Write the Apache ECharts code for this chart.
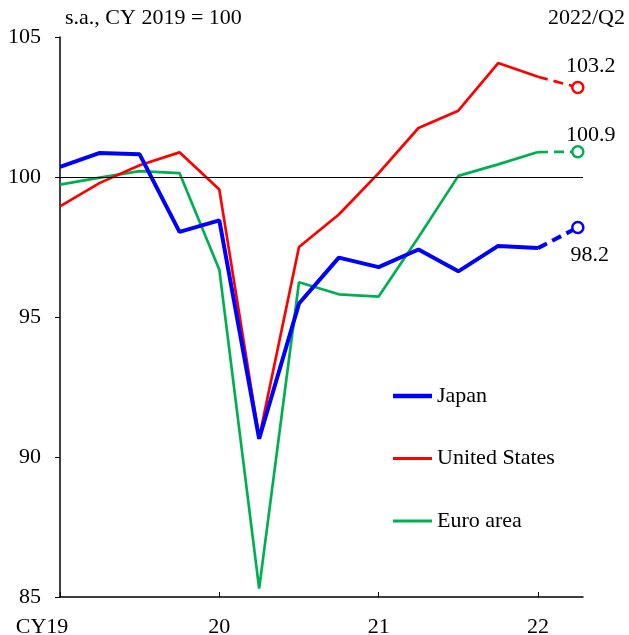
<!DOCTYPE html>
<html>
<head>
<meta charset="utf-8">
<script src="https://cdn.jsdelivr.net/npm/echarts@6/dist/echarts.min.js"></script>
<style>html,body{margin:0;padding:0;background:#fff}#c{width:629px;height:635px}</style>
</head>
<body>
<div id="c"></div>
<script>
var quarters = ['2019Q1','2019Q2','2019Q3','2019Q4','2020Q1','2020Q2','2020Q3','2020Q4','2021Q1','2021Q2','2021Q3','2021Q4','2022Q1','2022Q2'];
var xTickLabels = {0:'CY19',4:'20',8:'21',12:'22'};
var japan = [100.36,100.86,100.81,98.04,98.45,90.65,95.48,97.12,96.78,97.41,96.63,97.54,97.46,98.2];
var us    = [98.95,99.79,100.42,100.88,99.55,90.69,97.5,98.66,100.14,101.75,102.37,104.07,103.58,103.2];
var euro  = [99.73,99.98,100.21,100.14,96.69,85.3,96.24,95.81,95.73,97.85,100.04,100.45,100.89,100.9];
var yTicks = [85,90,95,100,105];

var FONT = "'Liberation Serif','Times New Roman',serif";
var last = quarters.length - 1;
function solid(arr){ return arr.slice(0, last).map(function(v,i){ return [i, v]; }); }
function dashed(arr, labelPos, labelOffset){
  return [
    {value:[last-1, arr[last-1]], symbol:'none'},
    {value:[last, arr[last]], label:{show:true, position:labelPos, offset:labelOffset, formatter: arr[last].toFixed(1), fontFamily:FONT, fontSize:22, color:'#000'}}
  ];
}
var colors = {japan:'#0000FF', us:'#FF0000', euro:'#00B050'};

var chart = echarts.init(document.getElementById('c'), null, {renderer:'canvas'});
chart.setOption({
  animation:false,
  grid:{left:60, right:46, top:37, bottom:38, containLabel:false, outerBoundsMode:'none'},
  xAxis:{
    type:'value', min:0, max:13.13, interval:4,
    axisLine:{show:true, onZero:false, lineStyle:{color:'#000', width:1.5}},
    axisTick:{show:true, inside:true, length:5, lineStyle:{color:'#000'}},
    splitLine:{show:false},
    axisLabel:{
      showMaxLabel:false, margin:19, color:'#000', fontFamily:FONT, fontSize:22,
      formatter:function(v){ var t = xTickLabels[v]; if (t === undefined) return ''; return v === 0 ? '{f|' + t + '}' : t; },
      rich:{f:{fontFamily:FONT, fontSize:22, color:'#000', padding:[0,36,0,0]}}
    }
  },
  yAxis:{
    type:'value', min:yTicks[0], max:yTicks[yTicks.length-1], interval:5,
    axisLine:{show:true, lineStyle:{color:'#000', width:1.5}},
    axisTick:{show:true, inside:false, length:5, lineStyle:{color:'#000'}},
    splitLine:{show:false},
    axisLabel:{margin:19, color:'#000', fontFamily:FONT, fontSize:22}
  },
  legend:{
    orient:'vertical', left:388, top:380, padding:5, itemWidth:39, itemHeight:20, itemGap:40.5, itemTextGap:5,
    symbolKeepAspect:true,
    itemStyle:{borderWidth:0},
    data:[
      {name:'Japan', icon:'path://M0,0H39V4.5H0Z'},
      {name:'United States', icon:'path://M0,0H39V3H0Z'},
      {name:'Euro area', icon:'path://M0,0H39V3H0Z'}
    ],
    textStyle:{fontFamily:FONT, fontSize:22, color:'#000'}
  },
  graphic:[
    {type:'text', left:65, top:7, style:{text:'s.a., CY 2019 = 100', font:'22px ' + FONT, fill:'#000'}},
    {type:'text', right:4, top:7, style:{text:'2022/Q2', font:'22px ' + FONT, fill:'#000'}}
  ],
  series:[
    {name:'Euro area', type:'line', data:solid(euro), symbol:'none', lineStyle:{color:colors.euro, width:2.7}, itemStyle:{color:colors.euro}, z:2,
     markLine:{silent:true, symbol:'none', label:{show:false}, lineStyle:{color:'#000', width:1.2, type:'solid'}, data:[{yAxis:100}]}},
    {name:'Euro dashed', type:'line', data:dashed(euro,'top',[13,6]), symbol:'circle', symbolSize:11, showSymbol:true,
     lineStyle:{color:colors.euro, width:2.7, type:[10,6]}, itemStyle:{color:'#fff', borderColor:colors.euro, borderWidth:2.5}, z:2},
    {name:'United States', type:'line', data:solid(us), symbol:'none', lineStyle:{color:colors.us, width:2.7}, itemStyle:{color:colors.us}, z:3},
    {name:'US dashed', type:'line', data:dashed(us,'top',[13,2]), symbol:'circle', symbolSize:11, showSymbol:true,
     lineStyle:{color:colors.us, width:2.7, type:[10,6]}, itemStyle:{color:'#fff', borderColor:colors.us, borderWidth:2.5}, z:3},
    {name:'Japan', type:'line', data:solid(japan), symbol:'none', lineStyle:{color:colors.japan, width:4}, itemStyle:{color:colors.japan}, z:4},
    {name:'Japan dashed', type:'line', data:dashed(japan,'bottom',[12,5]), symbol:'circle', symbolSize:11, showSymbol:true,
     lineStyle:{color:colors.japan, width:4, type:[10,6]}, itemStyle:{color:'#fff', borderColor:colors.japan, borderWidth:2.5}, z:4}
  ]
});
</script>
</body>
</html>
